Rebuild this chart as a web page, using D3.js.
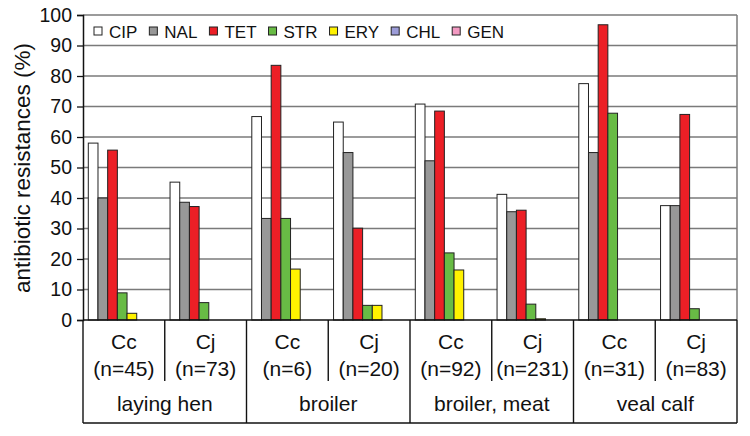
<!DOCTYPE html>
<html>
<head>
  <meta charset="utf-8" />
  <title>Antibiotic resistances</title>
  <style>
    body { margin: 0; background: #fff; }
    svg { display: block; font-family: "Liberation Sans", Arial, sans-serif; }
  </style>
</head>
<body>
  <svg id="chart" width="750" height="436"></svg>

  <script src="https://cdn.jsdelivr.net/npm/d3@7/dist/d3.min.js"></script>
  <script>
    // data
    var series = ["CIP", "NAL", "TET", "STR", "ERY", "CHL", "GEN"]
    var colors = ["#ffffff", "#989898", "#ec1f26", "#68bb45", "#fff200", "#9c9cd8", "#f39ac2"]
    var hosts = ["laying hen", "broiler", "broiler, meat", "veal calf"]
    var species = ["Cc", "Cj"]
    var sampleSizes = [45, 73, 6, 20, 92, 231, 31, 83]

    var CIP = [58, 45.2, 66.7, 64.9, 70.8, 41.2, 77.5, 37.5]
    var NAL = [40, 38.6, 33.3, 54.9, 52.2, 35.5, 54.9, 37.5]
    var TET = [55.7, 37.2, 83.5, 30.1, 68.5, 36, 96.8, 67.4]
    var STR = [8.9, 5.7, 33.3, 4.8, 22, 5.2, 67.8, 3.7]
    var ERY = [2.2, 0, 16.7, 4.8, 16.4, 0.4, 0, 0]
    var CHL = [0, 0, 0, 0, 0, 0, 0, 0]
    var GEN = [0, 0, 0, 0, 0, 0, 0, 0]
    var values = [CIP, NAL, TET, STR, ERY, CHL, GEN]

    var yTicks = [0, 10, 20, 30, 40, 50, 60, 70, 80, 90, 100]

    var plotLeft = 83, plotRight = 737, plotTop = 15, plotBottom = 320, tableBottom = 423

    // one key per host/species pair
    var keys = []
    hosts.forEach(function (h) {
      species.forEach(function (s) { keys.push(h + "|" + s) })
    })

    var svg = d3.select("#chart")

    var x = d3.scaleBand().domain(keys).range([plotLeft, plotRight])
    var xGroup = d3.scaleBand().domain(hosts).range([plotLeft, plotRight])
    var xs = d3.scaleBand().domain(series).range([5.3, 73.1])
    var y = d3.scaleLinear().domain([0, 100]).range([plotBottom, plotTop])

    // gridlines
    svg.append("g")
      .selectAll("line")
      .data(yTicks.filter(function (d) { return d > 0 }))
      .enter()
      .append("line")
      .attr("x1", plotLeft).attr("x2", plotRight)
      .attr("y1", function (d) { return y(d) })
      .attr("y2", function (d) { return y(d) })
      .attr("stroke", "#7a7a7a")
      .attr("stroke-width", 1.5)

    // right border of the plot
    svg.append("line")
      .attr("x1", plotRight).attr("x2", plotRight)
      .attr("y1", plotTop).attr("y2", plotBottom)
      .attr("stroke", "#7a7a7a")
      .attr("stroke-width", 1.5)

    // bars
    var rows = []
    values.forEach(function (arr, si) {
      arr.forEach(function (v, ki) {
        rows.push({ s: series[si], c: colors[si], k: keys[ki], v: v })
      })
    })

    svg.append("g")
      .selectAll("rect")
      .data(rows)
      .enter()
      .append("rect")
      .attr("x", function (d) { return x(d.k) + xs(d.s) })
      .attr("y", function (d) { return y(d.v) })
      .attr("width", xs.bandwidth())
      .attr("height", function (d) { return y(0) - y(d.v) })
      .attr("fill", function (d) { return d.c })
      .attr("stroke", "#222")
      .attr("stroke-width", 1)

    // y axis
    var yAxis = svg.append("g")
      .attr("transform", "translate(" + plotLeft + ",0)")
      .call(d3.axisLeft(y).tickValues(yTicks).tickSize(6).tickPadding(5))
    yAxis.select(".domain").attr("stroke", "#111").attr("stroke-width", 1.5)
    yAxis.selectAll(".tick line").attr("stroke", "#111").attr("stroke-width", 1.3)
    yAxis.selectAll("text")
      .attr("font-size", 19.5)
      .attr("font-family", "Liberation Sans, Arial, sans-serif")
      .attr("fill", "#111")

    svg.append("text")
      .attr("transform", "translate(24,168) rotate(-90)")
      .attr("text-anchor", "middle")
      .attr("dominant-baseline", "middle")
      .attr("font-size", 22.5)
      .attr("fill", "#111")
      .text("antibiotic resistances (%)")

    // legend
    var legend = svg.append("g")
    var lx = 94
    series.forEach(function (s, i) {
      legend.append("rect")
        .attr("x", lx).attr("y", 27)
        .attr("width", 8).attr("height", 8)
        .attr("fill", colors[i])
        .attr("stroke", "#222")
        .attr("stroke-width", 1)
      var t = legend.append("text")
        .attr("x", lx + 15).attr("y", 37.5)
        .attr("font-size", 17)
        .attr("fill", "#111")
        .text(s)
      lx += 15 + t.node().getComputedTextLength() + 12
    })

    // category table below the axis
    var table = svg.append("g").attr("stroke", "#111").attr("stroke-width", 1.4)
    table.append("line")
      .attr("x1", plotLeft).attr("x2", plotRight)
      .attr("y1", plotBottom).attr("y2", plotBottom)
    table.append("line")
      .attr("x1", plotLeft).attr("x2", plotRight)
      .attr("y1", tableBottom).attr("y2", tableBottom)
    table.selectAll(".grp")
      .data(hosts)
      .enter()
      .append("line")
      .attr("class", "grp")
      .attr("x1", function (d) { return xGroup(d) })
      .attr("x2", function (d) { return xGroup(d) })
      .attr("y1", plotBottom).attr("y2", tableBottom)
    table.append("line")
      .attr("x1", plotRight).attr("x2", plotRight)
      .attr("y1", plotBottom).attr("y2", tableBottom)
    table.selectAll(".sub")
      .data(keys.filter(function (d, i) { return i % 2 == 1 }))
      .enter()
      .append("line")
      .attr("class", "sub")
      .attr("x1", function (d) { return x(d) })
      .attr("x2", function (d) { return x(d) })
      .attr("y1", plotBottom).attr("y2", 381)

    var labels = svg.append("g")
      .attr("text-anchor", "middle")
      .attr("font-size", 21)
      .attr("fill", "#111")
    keys.forEach(function (k, i) {
      var cx = x(k) + x.bandwidth() / 2
      labels.append("text").attr("x", cx).attr("y", 349).text(species[i % 2])
      labels.append("text").attr("x", cx).attr("y", 376).text("(n=" + sampleSizes[i] + ")")
    })
    hosts.forEach(function (h) {
      labels.append("text")
        .attr("x", xGroup(h) + xGroup.bandwidth() / 2)
        .attr("y", 411)
        .text(h)
    })
  </script>
</body>
</html>
